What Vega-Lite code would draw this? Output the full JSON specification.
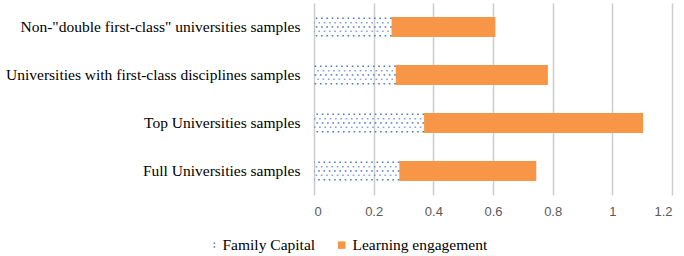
{
  "$schema": "https://vega.github.io/schema/vega-lite/v6.json",
  "width": 358,
  "height": 192,
  "autosize": "none",
  "padding": {"left": 314, "top": 3, "right": 12, "bottom": 61},
  "background": "white",
  "config": {"view": {"stroke": null}},
  "data": {
    "values": [
      {"sample": "Non-\"double first-class\" universities samples", "series": "Family Capital", "value": 0.26},
      {"sample": "Non-\"double first-class\" universities samples", "series": "Learning engagement", "value": 0.348},
      {"sample": "Universities with first-class disciplines samples", "series": "Family Capital", "value": 0.274},
      {"sample": "Universities with first-class disciplines samples", "series": "Learning engagement", "value": 0.51},
      {"sample": "Top Universities samples", "series": "Family Capital", "value": 0.369},
      {"sample": "Top Universities samples", "series": "Learning engagement", "value": 0.734},
      {"sample": "Full Universities samples", "series": "Family Capital", "value": 0.286},
      {"sample": "Full Universities samples", "series": "Learning engagement", "value": 0.459}
    ]
  },
  "encoding": {
    "y": {
      "field": "sample", "type": "nominal", "sort": null, "title": null,
      "scale": {"paddingInner": 0.58, "paddingOuter": 0.29},
      "axis": {"domain": false, "ticks": false, "labelFont": "Liberation Serif", "labelFontSize": 15.5, "labelColor": "#000000", "labelPadding": 14, "labelLimit": 320}
    }
  },
  "layer": [
    {
      "mark": {"type": "bar"},
      "encoding": {
        "x": {
          "field": "value", "type": "quantitative", "aggregate": "sum", "stack": "zero", "title": null,
          "scale": {"domain": [0, 1.2], "nice": false},
          "axis": {"values": [0, 0.2, 0.4, 0.6, 0.8, 1, 1.2], "format": "~g", "domain": false, "ticks": false, "gridColor": "#cccccc", "gridWidth": 1.5, "labelFont": "Liberation Sans", "labelFontSize": 13, "labelColor": "#595959", "labelPadding": 10}
        },
        "color": {
          "condition": {"test": "datum.series === 'Family Capital'", "value": "rgba(255,255,255,0)"},
          "field": "series", "type": "nominal", "title": null,
          "scale": {"domain": ["Family Capital", "Learning engagement"], "range": ["#4472c4", "#f79646"]},
          "legend": {
            "orient": "none", "direction": "horizontal", "legendX": -110, "legendY": 234,
            "labelFont": "Liberation Serif", "labelFontSize": 15.5, "labelColor": "#000000",
            "symbolSize": 56, "columnPadding": 18, "labelOffset": 3,
            "encode": {
              "symbols": {
                "update": {
                  "shape": {"signal": "datum.value === 'Family Capital' ? 'M0.5,-0.7h0.4v0.4h-0.4z M0.5,0.3h0.4v0.4h-0.4z' : 'square'"}
                }
              }
            }
          }
        }
      }
    },
    {
      "transform": [{"filter": "datum.series === 'Family Capital'"}],
      "mark": {"type": "rule", "color": "#4472c4", "strokeWidth": 1.6, "strokeDash": [1.6, 3.7], "yOffset": -8.7, "opacity": 0.95},
      "encoding": {"x": {"field": "value", "type": "quantitative"}, "x2": {"datum": 0}}
    },
    {
      "transform": [{"filter": "datum.series === 'Family Capital'"}],
      "mark": {"type": "rule", "color": "#4472c4", "strokeWidth": 1.6, "strokeDash": [1.6, 3.7], "strokeDashOffset": 2.65, "yOffset": -4.3, "opacity": 0.65},
      "encoding": {"x": {"field": "value", "type": "quantitative"}, "x2": {"datum": 0}}
    },
    {
      "transform": [{"filter": "datum.series === 'Family Capital'"}],
      "mark": {"type": "rule", "color": "#4472c4", "strokeWidth": 1.6, "strokeDash": [1.6, 3.7], "yOffset": 0, "opacity": 0.95},
      "encoding": {"x": {"field": "value", "type": "quantitative"}, "x2": {"datum": 0}}
    },
    {
      "transform": [{"filter": "datum.series === 'Family Capital'"}],
      "mark": {"type": "rule", "color": "#4472c4", "strokeWidth": 1.6, "strokeDash": [1.6, 3.7], "strokeDashOffset": 2.65, "yOffset": 4.3, "opacity": 0.65},
      "encoding": {"x": {"field": "value", "type": "quantitative"}, "x2": {"datum": 0}}
    },
    {
      "transform": [{"filter": "datum.series === 'Family Capital'"}],
      "mark": {"type": "rule", "color": "#4472c4", "strokeWidth": 1.6, "strokeDash": [1.6, 3.7], "yOffset": 8.7, "opacity": 0.95},
      "encoding": {"x": {"field": "value", "type": "quantitative"}, "x2": {"datum": 0}}
    }
  ]
}
